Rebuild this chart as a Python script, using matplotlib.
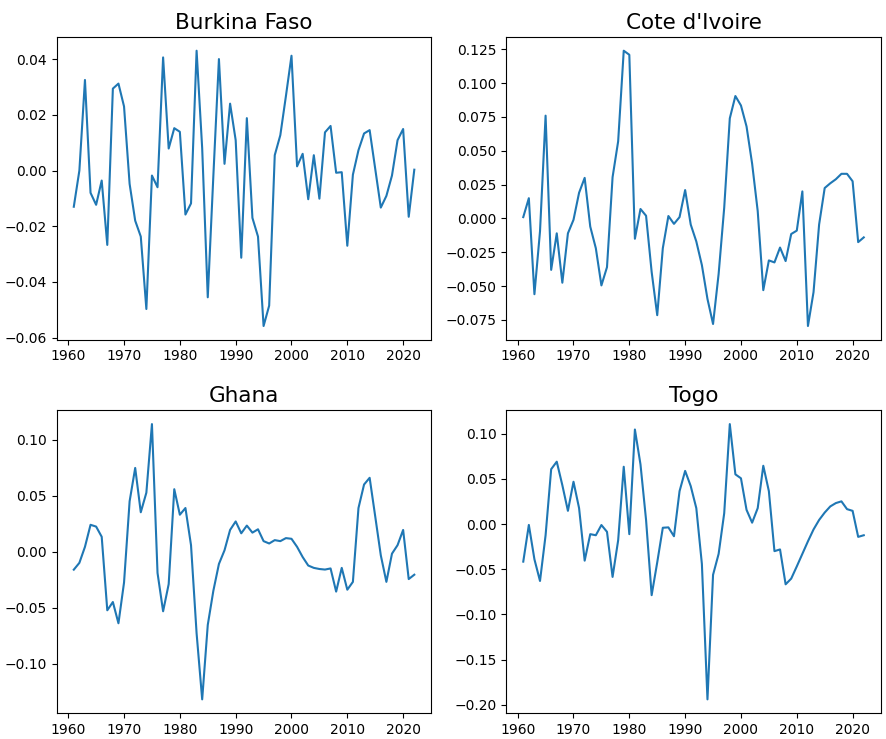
import matplotlib
matplotlib.use('Agg')
import matplotlib.pyplot as plt
import numpy as np

# yearly growth deviations, 1961-2022
years = np.arange(1961, 2023)

burkina_faso = [
    -0.013, 0.000, 0.0325, -0.008, -0.0123, -0.0036, -0.0267, 0.0294, 0.0312, 0.023,
    -0.0048, -0.018, -0.0237, -0.0497, -0.0018, -0.006, 0.0406, 0.0079, 0.0152, 0.0139,
    -0.0158, -0.0118, 0.043, 0.008, -0.0455, -0.002, 0.040, 0.0024, 0.024, 0.0109,
    -0.0313, 0.0188, -0.017, -0.0237, -0.0558, -0.0485, 0.0055, 0.0127, 0.0267, 0.0412,
    0.0015, 0.006, -0.0103, 0.0055, -0.0101, 0.0137, 0.016, -0.0008, -0.0006, -0.027,
    -0.0015, 0.0073, 0.0133, 0.0145, 0.0006, -0.0133, -0.0091, -0.0018, 0.0109, 0.0149,
    -0.0166, 0.0003,
]

cote_divoire = [
    0.001, 0.015, -0.056, -0.0095, 0.076, -0.038, -0.011, -0.0475, -0.011, -0.001,
    0.019, 0.030, -0.006, -0.022, -0.0495, -0.036, 0.0305, 0.057, 0.124, 0.121,
    -0.015, 0.007, 0.002, -0.0395, -0.0715, -0.022, 0.0018, -0.004, 0.001, 0.021,
    -0.0045, -0.017, -0.0345, -0.0595, -0.078, -0.041, 0.008, 0.074, 0.0905, 0.0835,
    0.068, 0.0405, 0.0055, -0.053, -0.031, -0.0325, -0.0215, -0.0315, -0.0115, -0.009,
    0.020, -0.0795, -0.0545, -0.0045, 0.0225, 0.026, 0.029, 0.033, 0.033, 0.0275,
    -0.0175, -0.014,
]

ghana = [
    -0.0161, -0.010, 0.0043, 0.024, 0.0224, 0.0133, -0.0524, -0.045, -0.064, -0.0276,
    0.045, 0.0748, 0.0352, 0.0527, 0.114, -0.019, -0.0533, -0.029, 0.0558, 0.033,
    0.039, 0.0058, -0.073, -0.132, -0.0655, -0.035, -0.011, 0.0012, 0.0194, 0.027,
    0.0164, 0.0233, 0.017, 0.020, 0.0094, 0.0073, 0.0103, 0.0094, 0.0121, 0.0115,
    0.0043, -0.0048, -0.0124, -0.0145, -0.0155, -0.016, -0.015, -0.0357, -0.0145, -0.034,
    -0.027, 0.039, 0.060, 0.066, 0.0315, -0.0033, -0.027, -0.0018, 0.0058, 0.0194,
    -0.0245, -0.0206,
]

togo = [
    -0.0416, -0.001, -0.039, -0.063, -0.0124, 0.0607, 0.069, 0.043, 0.0146, 0.0468,
    0.0176, -0.0405, -0.0112, -0.0124, -0.0011, -0.0086, -0.0585, -0.018, 0.0634, -0.0112,
    0.1046, 0.066, 0.0045, -0.0787, -0.0424, -0.0041, -0.0037, -0.0135, 0.0364, 0.0588,
    0.042, 0.0176, -0.0442, -0.194, -0.0562, -0.033, 0.012, 0.1106, 0.055, 0.0506,
    0.0157, 0.0015, 0.0176, 0.0645, 0.0364, -0.030, -0.0281, -0.0667, -0.0604, -0.0469,
    -0.033, -0.0191, -0.006, 0.0045, 0.0127, 0.0195, 0.0232, 0.0251, 0.0165, 0.0146,
    -0.0142, -0.0124,
]

countries = ['Burkina Faso', "Cote d'Ivoire", 'Ghana', 'Togo']
series = [burkina_faso, cote_divoire, ghana, togo]

fig, axes = plt.subplots(2, 2, figsize=(8.87, 7.39), dpi=100)
fig.subplots_adjust(left=0.064, right=0.993, top=0.950, bottom=0.035,
                    wspace=0.2, hspace=0.233)

for ax, name, vals in zip(axes.flat, countries, series):
    ax.plot(years, vals, color='#1f77b4', linewidth=1.5)
    ax.set_title(name, fontsize=15.5)
    ax.set_xticks([1960, 1970, 1980, 1990, 2000, 2010, 2020])

axes[0, 0].set_yticks([-0.06, -0.04, -0.02, 0.00, 0.02, 0.04])
axes[0, 1].set_yticks([-0.075, -0.05, -0.025, 0.0, 0.025, 0.05, 0.075, 0.1, 0.125])
axes[1, 0].set_yticks([-0.10, -0.05, 0.00, 0.05, 0.10])
axes[1, 1].set_yticks([-0.20, -0.15, -0.10, -0.05, 0.00, 0.05, 0.10])

fig.savefig('out.png', dpi=100)
